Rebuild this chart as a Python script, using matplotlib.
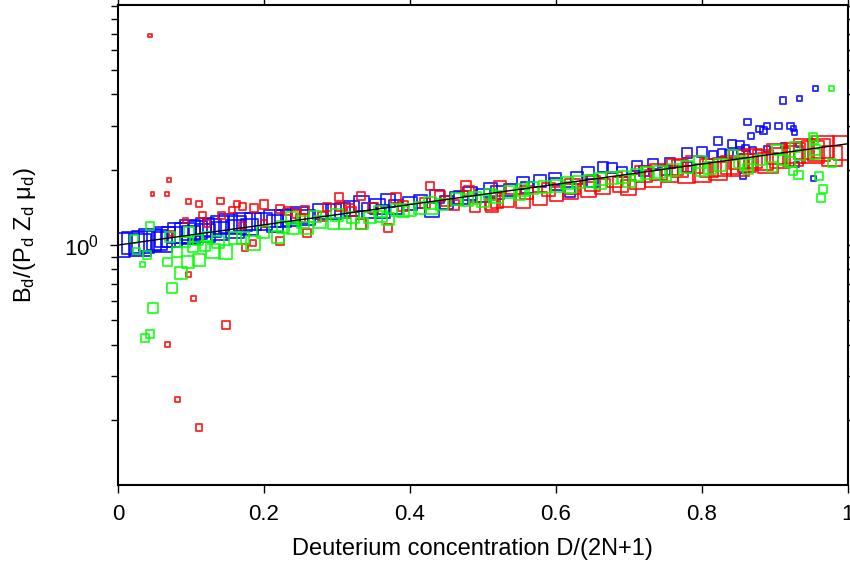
import matplotlib
matplotlib.use('Agg')
import matplotlib.pyplot as plt
from matplotlib.ticker import LogLocator, NullFormatter

plt.rcParams['font.family'] = ['Liberation Sans', 'DejaVu Sans']
plt.rcParams['mathtext.fontset'] = 'custom'
plt.rcParams['mathtext.rm'] = 'Liberation Sans'
plt.rcParams['mathtext.it'] = 'Liberation Sans:italic'

# blue series: x, ratio, marker weight
blue_x = [0.000, 0.021, 0.034, 0.044, 0.053, 0.064, 0.074, 0.082, 0.092, 0.099,
          0.110, 0.119, 0.129, 0.140, 0.151, 0.163, 0.171, 0.185, 0.199, 0.212,
          0.226, 0.238, 0.249, 0.030, 0.060, 0.100, 0.120, 0.140, 0.160, 0.180,
          0.215, 0.259, 0.277, 0.295, 0.308, 0.320, 0.334, 0.345, 0.355, 0.363,
          0.370, 0.380, 0.400, 0.414, 0.430, 0.437, 0.450, 0.464, 0.470, 0.482,
          0.500, 0.510, 0.520, 0.537, 0.555, 0.560, 0.578, 0.599, 0.600, 0.619,
          0.629, 0.644, 0.650, 0.664, 0.677, 0.690, 0.711, 0.720, 0.733, 0.750,
          0.756, 0.779, 0.780, 0.800, 0.815, 0.822, 0.827, 0.837, 0.841, 0.852,
          0.853, 0.856, 0.860, 0.862, 0.867, 0.870, 0.879, 0.884, 0.889, 0.889,
          0.905, 0.911, 0.912, 0.921, 0.926, 0.927, 0.930, 0.932, 0.933, 0.953,
          0.955]
blue_y = [1.00, 1.02, 1.03, 1.05, 1.05, 1.08, 1.08, 1.12, 1.12, 1.15,
          1.15, 1.18, 1.17, 1.20, 1.22, 1.20, 1.24, 1.24, 1.24, 1.28,
          1.28, 1.29, 1.32, 1.00, 1.03, 1.10, 1.12, 1.14, 1.16, 1.18,
          1.22, 1.29, 1.36, 1.36, 1.38, 1.40, 1.46, 1.38, 1.43, 1.36,
          1.51, 1.42, 1.47, 1.49, 1.38, 1.56, 1.48, 1.53, 1.55, 1.61,
          1.58, 1.66, 1.62, 1.66, 1.77, 1.70, 1.80, 1.84, 1.75, 1.63,
          1.85, 1.94, 1.80, 2.05, 2.03, 1.95, 2.07, 1.98, 2.11, 2.00,
          2.13, 2.33, 2.05, 2.36, 2.29, 2.61, 2.33, 2.31, 2.53, 2.51,
          2.38, 1.89, 2.44, 3.10, 2.73, 2.38, 2.91, 2.86, 2.99, 2.42,
          2.99, 3.77, 2.49, 2.99, 2.91, 2.81, 2.09, 2.53, 3.84, 1.84,
          4.21]
blue_w = [14, 13, 13, 13, 12, 12, 12, 12, 12, 12,
          11, 11, 11, 11, 11, 11, 11, 10, 10, 10,
          10, 10, 10, 13, 12, 11, 11, 11, 11, 10,
          10, 9, 9, 9, 9, 9, 9, 9, 9, 8,
          8, 8, 8, 8, 8, 8, 8, 8, 8, 8,
          8, 8, 8, 7, 7, 7, 7, 7, 7, 6,
          7, 7, 7, 6, 6, 6, 6, 6, 6, 6,
          6, 6, 6, 6, 5, 5, 5, 5, 5, 5,
          4, 4, 4, 4, 4, 4, 4, 4, 4, 4,
          4, 4, 3, 4, 3, 3, 3, 3, 3, 3,
          3]

# red series
red_x = [0.044, 0.047, 0.067, 0.070, 0.068, 0.073, 0.081, 0.093, 0.096, 0.097,
         0.103, 0.111, 0.111, 0.116, 0.122, 0.140, 0.142, 0.148, 0.156, 0.163,
         0.170, 0.171, 0.174, 0.185, 0.186, 0.200, 0.200, 0.222, 0.222, 0.233,
         0.244, 0.250, 0.256, 0.259, 0.280, 0.286, 0.303, 0.304, 0.318, 0.320,
         0.333, 0.333, 0.350, 0.370, 0.381, 0.390, 0.420, 0.427, 0.441, 0.450,
         0.460, 0.477, 0.481, 0.489, 0.511, 0.512, 0.519, 0.523, 0.533, 0.555,
         0.560, 0.578, 0.590, 0.601, 0.620, 0.622, 0.644, 0.650, 0.664, 0.680,
         0.689, 0.700, 0.711, 0.720, 0.733, 0.740, 0.756, 0.763, 0.770, 0.779,
         0.790, 0.800, 0.810, 0.822, 0.827, 0.838, 0.850, 0.852, 0.862, 0.870,
         0.884, 0.890, 0.903, 0.907, 0.925, 0.927, 0.940, 0.952, 0.960, 0.966,
         0.978, 0.996]
red_y = [6.86, 1.60, 1.60, 1.82, 0.402, 1.11, 0.242, 1.25, 0.766, 1.49,
         0.614, 1.46, 0.187, 1.32, 1.22, 1.50, 1.31, 0.479, 1.38, 1.46,
         1.20, 1.43, 0.98, 1.02, 1.41, 1.45, 1.22, 1.39, 1.04, 1.37,
         1.33, 1.28, 1.38, 1.12, 1.30, 1.42, 1.56, 1.42, 1.41, 1.36,
         1.57, 1.21, 1.40, 1.17, 1.54, 1.43, 1.47, 1.72, 1.57, 1.50,
         1.45, 1.72, 1.64, 1.42, 1.45, 1.43, 1.49, 1.71, 1.51, 1.50,
         1.62, 1.53, 1.67, 1.60, 1.63, 1.71, 1.66, 1.76, 1.71, 1.82,
         1.74, 1.70, 1.80, 1.92, 1.84, 1.96, 1.92, 2.05, 2.02, 1.91,
         2.10, 1.94, 2.03, 1.98, 2.05, 2.09, 2.20, 2.05, 2.13, 2.22,
         2.19, 2.12, 2.31, 2.23, 2.27, 2.34, 2.42, 2.36, 2.40, 2.47,
         2.27, 2.44]
red_w = [2, 2, 2, 2, 3, 3, 3, 3, 3, 3,
         3, 4, 4, 4, 4, 4, 4, 5, 4, 4,
         4, 4, 4, 4, 5, 5, 4, 5, 5, 5,
         5, 5, 5, 5, 5, 5, 5, 5, 5, 5,
         5, 6, 6, 5, 6, 6, 6, 5, 6, 6,
         6, 6, 6, 6, 7, 7, 7, 7, 8, 8,
         8, 8, 8, 8, 9, 9, 9, 9, 9, 9,
         9, 9, 9, 10, 10, 10, 10, 10, 10, 10,
         10, 11, 11, 11, 11, 11, 11, 11, 11, 11,
         12, 12, 12, 12, 12, 12, 12, 13, 13, 13,
         12, 14]

# green series
green_x = [0.022, 0.025, 0.034, 0.037, 0.040, 0.044, 0.044, 0.048, 0.068, 0.071,
           0.074, 0.081, 0.086, 0.092, 0.096, 0.097, 0.103, 0.110, 0.111, 0.119,
           0.122, 0.130, 0.137, 0.147, 0.160, 0.171, 0.185, 0.199, 0.219, 0.226,
           0.238, 0.240, 0.253, 0.259, 0.270, 0.277, 0.295, 0.300, 0.311, 0.322,
           0.334, 0.345, 0.359, 0.360, 0.370, 0.382, 0.390, 0.400, 0.414, 0.427,
           0.430, 0.444, 0.464, 0.478, 0.489, 0.500, 0.510, 0.519, 0.537, 0.550,
           0.555, 0.568, 0.585, 0.601, 0.615, 0.620, 0.630, 0.647, 0.660, 0.660,
           0.677, 0.692, 0.700, 0.711, 0.725, 0.742, 0.750, 0.760, 0.779, 0.797,
           0.800, 0.811, 0.825, 0.842, 0.852, 0.860, 0.863, 0.879, 0.896, 0.903,
           0.911, 0.921, 0.925, 0.927, 0.932, 0.934, 0.952, 0.953, 0.955, 0.955,
           0.960, 0.963, 0.966, 0.977, 0.978]
green_y = [1.06, 0.946, 0.839, 0.425, 0.912, 0.440, 1.19, 0.560, 0.855, 1.08,
           0.673, 0.937, 0.773, 1.03, 0.855, 1.13, 0.98, 1.05, 0.871, 0.99,
           1.08, 0.946, 1.03, 0.937, 1.07, 1.07, 1.02, 1.13, 1.08, 1.18,
           1.28, 1.17, 1.24, 1.17, 1.30, 1.24, 1.22, 1.32, 1.22, 1.29,
           1.22, 1.29, 1.36, 1.30, 1.27, 1.38, 1.36, 1.38, 1.41, 1.47,
           1.40, 1.45, 1.53, 1.51, 1.54, 1.50, 1.59, 1.56, 1.63, 1.60,
           1.66, 1.69, 1.71, 1.72, 1.77, 1.70, 1.79, 1.80, 1.84, 1.76,
           1.85, 1.87, 1.80, 1.91, 1.94, 1.96, 1.90, 2.00, 2.05, 2.15,
           2.00, 2.03, 2.09, 2.29, 2.15, 2.10, 2.01, 2.19, 2.05, 2.40,
           2.19, 2.15, 1.98, 2.47, 1.91, 2.29, 2.70, 2.63, 2.40, 2.31,
           1.89, 1.54, 1.67, 4.21, 2.13]
green_w = [5, 4, 3, 5, 5, 5, 5, 6, 5, 6,
           6, 6, 7, 6, 7, 6, 6, 6, 7, 6,
           6, 8, 7, 8, 7, 7, 8, 7, 7, 7,
           7, 7, 7, 7, 7, 7, 7, 7, 7, 7,
           7, 7, 7, 7, 7, 7, 7, 7, 7, 7,
           7, 7, 7, 7, 7, 7, 7, 7, 7, 7,
           7, 7, 7, 7, 7, 7, 7, 7, 7, 7,
           7, 7, 7, 7, 7, 7, 7, 7, 7, 7,
           7, 7, 7, 6, 7, 7, 6, 6, 6, 6,
           6, 6, 5, 6, 5, 6, 5, 5, 6, 6,
           5, 5, 5, 3, 5]

# reference trend line
fit_x = [0.0, 1.0]
fit_y = [1.0, 2.54]

fig = plt.figure(figsize=(8.5, 5.7), dpi=100)
ax = fig.add_axes([118 / 850, 85 / 570, 730 / 850, 480 / 570])

series = [(blue_x, blue_y, blue_w, '#0000ff'),
          (red_x, red_y, red_w, '#ff0000'),
          (green_x, green_y, green_w, '#00ff00')]
for xs, ys, ws, col in series:
    ax.scatter(xs, ys, s=[(1.2 * w) ** 2 for w in ws], marker='s',
               facecolors='none', edgecolors=col, linewidths=1.3, alpha=0.85)

ax.plot(fit_x, fit_y, color='black', linewidth=1, zorder=5)

ax.set_yscale('log')
ax.set_xlim(0, 1)
ax.set_ylim(0.11, 9.1)
ax.yaxis.set_minor_locator(LogLocator(base=10, subs=range(2, 10)))
ax.yaxis.set_minor_formatter(NullFormatter())
ax.set_xticks([0, 0.2, 0.4, 0.6, 0.8, 1])
ax.set_xticklabels(['0', '0.2', '0.4', '0.6', '0.8', '1'])

ax.tick_params(which='both', direction='out', top=True, right=True,
               labeltop=False, labelright=False, labelsize=16, width=1)
ax.tick_params(which='major', length=6, pad=8)
ax.tick_params(which='minor', length=5)
for sp in ax.spines.values():
    sp.set_linewidth(1.5)

ax.set_xlabel('Deuterium concentration D/(2N+1)', fontsize=17)
ax.xaxis.set_label_coords(0.485, -0.11)
ax.set_ylabel('B$_{\\rm d}$/(P$_{\\rm d}$ Z$_{\\rm d}$ μ$_{\\rm d}$)', fontsize=17)
ax.yaxis.set_label_coords(-0.11, 0.52)

fig.savefig('out.png', dpi=100)
